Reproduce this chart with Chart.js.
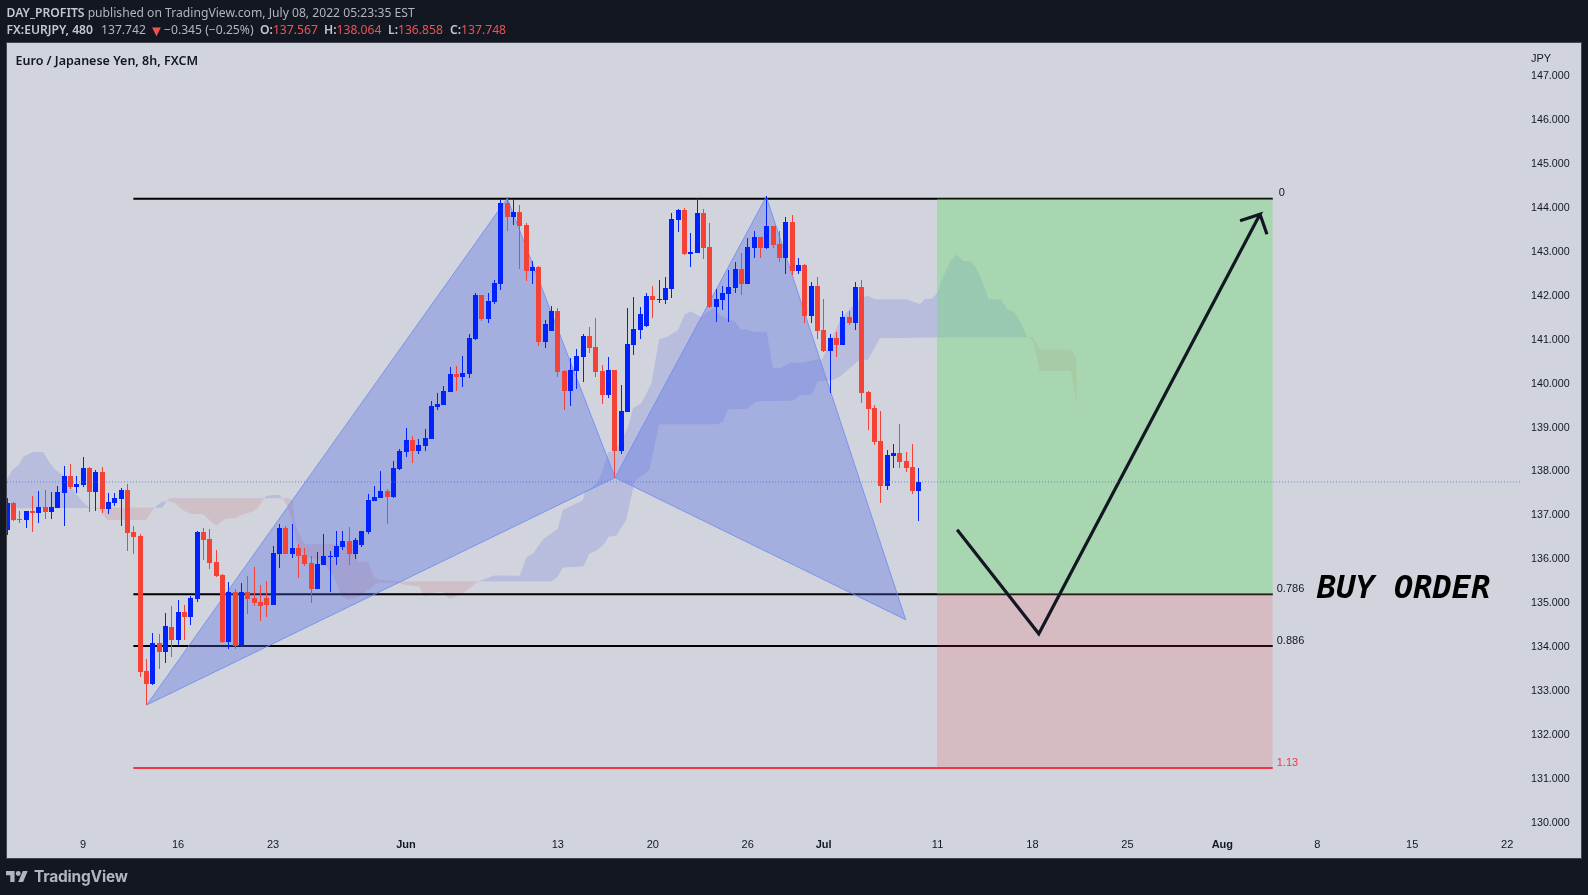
<!DOCTYPE html>
<html><head><meta charset="utf-8">
<script src="https://cdn.jsdelivr.net/npm/chart.js@4"></script>
<style>
html,body{margin:0;padding:0;width:1588px;height:895px;background:#131722;overflow:hidden}
#panel{position:absolute;left:7px;top:43px;width:1574px;height:815px;background:#d1d4dc;box-shadow:0 0 0 1px #434651}
canvas{position:absolute;left:0;top:0}
.h{position:absolute;font-family:"Noto Sans",sans-serif;font-size:12.15px;line-height:16px;color:#b2b5be;white-space:pre}
.h b{font-weight:600;color:#c4c7cf}
.h i{font-style:normal;color:#ef5350}
.p{position:absolute;top:22px;font-family:"Noto Sans",sans-serif;font-size:12.15px;line-height:16px;white-space:pre;color:#b2b5be}
.p b{font-weight:600;color:#c4c7cf}
.p i{font-style:normal;color:#ef5350}
#sym{position:absolute;left:15.5px;top:53px;font:600 12.5px/16px "Noto Sans",sans-serif;color:#131722;white-space:pre}
#jpy{position:absolute;left:1531px;top:51px;font:11px/14px "Liberation Sans",sans-serif;color:#131722}
#logo{position:absolute;left:6px;top:871px;width:22px;height:11px}
#tv{position:absolute;left:34px;top:866px;font:700 15.5px/22px Inter,sans-serif;color:#b2b5be;letter-spacing:-.2px}
</style></head><body>
<div id="panel"></div>
<canvas id="c" width="1588" height="895"></canvas>
<div class="h" style="left:6.5px;top:5px"><b>DAY_PROFITS</b> published on TradingView.com, July 08, 2022 05:23:35 EST</div>
<div class="p" style="left:6.5px"><b>FX:EURJPY, 480</b></div>
<div class="p" style="left:101px">137.742</div>
<div class="p" style="left:149px;font-size:15px"><i>▼</i></div>
<div class="p" style="left:164px">−0.345 (−0.25%)</div>
<div class="p" style="left:260px"><b>O:</b><i>137.567</i></div>
<div class="p" style="left:324px"><b>H:</b><i>138.064</i></div>
<div class="p" style="left:388px"><b>L:</b><i>136.858</i></div>
<div class="p" style="left:450px"><b>C:</b><i>137.748</i></div>
<div id="sym">Euro / Japanese Yen, 8h, FXCM</div>
<div id="jpy">JPY</div>
<svg id="logo" viewBox="0 4 36 18"><path fill="#b2b5be" d="M14 22H7V11H0V4h14v18zM28 22h-8l7.5-18h8L28 22z"/><circle fill="#b2b5be" cx="20" cy="8" r="4"/></svg>
<div id="tv">TradingView</div>
<script>
// Candles (price), one entry per 8h bar
const candleOpen=[136.65,137.26,136.90,136.88,137.08,137.03,137.17,137.06,137.15,137.49,137.88,137.63,137.67,138.06,137.51,137.97,137.12,137.26,137.35,137.56,136.60,136.51,133.43,133.14,134.07,133.87,134.44,134.14,134.78,134.66,135.07,136.60,136.44,135.92,135.62,134.09,135.23,134.00,135.23,135.10,135.01,135.10,134.94,136.10,136.69,136.10,136.23,136.08,135.89,135.30,135.85,136.04,136.03,136.26,136.39,136.10,136.30,136.60,137.31,137.37,137.53,137.40,138.03,138.42,138.70,138.45,138.56,138.72,139.45,139.49,139.79,140.20,140.13,140.20,141.00,142.00,141.45,141.84,142.25,144.09,143.77,143.89,143.59,142.55,142.64,140.93,141.18,141.63,140.27,139.81,140.27,140.59,141.07,140.81,140.27,139.72,140.29,138.44,139.33,140.86,141.20,141.29,141.98,141.89,141.89,142.13,143.71,143.93,142.93,142.96,143.87,143.09,141.73,141.89,142.02,142.16,142.59,142.25,143.07,143.32,143.07,143.57,143.16,142.84,143.66,142.55,142.68,141.52,142.20,141.20,140.72,141.02,140.86,141.50,141.36,142.18,139.79,139.43,138.67,137.65,138.33,138.40,138.22,138.08,137.53];
const candleClose=[137.25,136.88,136.88,137.08,137.03,137.17,137.06,137.17,137.51,137.88,137.63,137.69,138.06,137.51,137.97,137.12,137.28,137.37,137.56,136.58,136.49,133.41,133.14,134.07,133.87,134.46,134.14,134.78,134.66,135.10,136.60,136.42,135.89,135.60,134.09,135.23,134.00,135.23,135.07,134.98,134.91,134.94,136.12,136.69,136.10,136.23,136.05,135.87,135.30,135.87,136.05,136.05,136.28,136.39,136.10,136.42,136.62,137.33,137.40,137.53,137.40,138.06,138.45,138.70,138.45,138.58,138.74,139.47,139.52,139.81,140.20,140.13,140.22,141.02,142.00,141.45,141.86,142.27,144.09,143.77,143.89,143.57,142.55,142.64,140.93,141.34,141.63,140.24,139.81,140.29,140.61,141.07,140.79,140.24,139.72,140.29,138.44,139.36,140.88,141.22,141.57,141.98,141.89,141.91,142.16,143.73,143.93,142.93,142.98,143.87,143.07,141.73,141.91,142.04,142.18,142.59,142.25,143.09,143.32,143.07,143.57,143.14,142.84,143.66,142.55,142.68,141.52,142.20,141.18,140.72,141.02,140.86,141.50,141.36,142.18,139.77,139.40,138.65,137.65,138.35,138.40,138.20,138.06,137.53,137.74];
const candleHigh=[137.37,137.29,137.08,137.08,137.42,137.53,137.56,137.51,137.65,138.10,138.15,137.88,138.31,138.08,138.01,138.08,137.49,137.49,137.60,137.69,136.74,136.55,133.71,134.30,134.28,134.75,134.91,135.05,134.94,135.14,136.62,136.69,136.67,136.19,135.64,135.46,135.30,135.44,135.60,135.80,135.39,135.48,136.28,136.78,136.74,136.78,136.33,136.24,136.05,136.14,136.55,136.17,136.62,136.62,136.71,136.46,136.62,137.47,137.65,137.99,137.58,138.22,138.49,138.97,138.79,138.72,138.95,139.58,139.77,139.93,140.36,140.38,140.61,141.11,142.04,142.00,142.04,142.34,144.18,144.23,144.16,144.05,143.64,142.77,142.66,141.43,141.75,141.70,140.29,140.56,140.77,141.11,141.27,141.48,140.40,140.59,140.29,139.95,141.70,141.95,141.73,142.04,142.20,142.34,142.41,143.87,143.96,143.98,143.41,144.21,143.96,143.64,142.13,142.20,142.57,142.75,142.96,143.30,143.46,143.32,144.25,143.57,143.46,143.77,143.82,142.84,142.70,142.29,142.41,141.91,141.11,141.16,141.63,141.63,142.29,142.34,139.81,139.49,139.36,138.47,138.60,139.06,138.42,138.60,138.06];
const candleLow=[136.53,136.85,136.81,136.69,136.60,136.80,136.90,136.90,137.15,136.74,137.58,137.49,137.63,137.06,137.08,137.03,137.01,137.19,136.74,136.17,136.10,133.30,132.65,133.11,133.48,133.62,133.75,134.03,134.14,134.48,135.01,135.96,135.76,135.57,134.07,133.93,133.93,134.00,134.73,134.91,134.57,134.66,134.94,135.78,136.10,136.01,135.55,135.82,134.98,135.30,135.85,135.23,135.85,136.19,135.85,135.98,136.26,136.55,137.31,137.37,136.78,137.37,138.01,138.31,138.17,138.38,138.45,138.72,139.38,139.49,139.79,139.81,139.90,140.11,140.97,141.41,141.36,141.79,142.11,143.46,143.59,142.59,142.32,142.25,140.84,140.79,141.18,140.13,139.38,139.47,139.86,140.02,140.68,140.13,139.52,139.65,137.83,138.38,139.33,140.63,141.00,141.27,141.48,141.82,141.79,141.93,143.43,142.91,142.64,142.96,142.82,141.70,141.38,141.66,141.38,142.04,142.00,142.25,142.84,142.84,143.05,143.07,142.75,142.48,142.45,142.48,141.36,141.36,141.00,140.70,139.77,140.59,140.86,141.32,141.20,139.54,138.92,138.58,137.26,137.56,138.06,138.06,137.97,137.47,136.86];
// Ichimoku cloud edges
const spanAIdx=[-0.3,0.8,1.85,2.6,4,5.7,6.6,7.4,8.7,10.8,11.9,12.9,14.5,15.8,21.9,23.2,24,24.5,25.6,26.6,27.7,29,30.9,33,34.5,36.1,37.2,38.5,39.6,40.6,40.9,41.9,43,43.5,44.3,45.1,45.6,47,49.9,51.7,52.8,53.8,55.1,55.4,57,58,58.8,62,63,65.1,65.9,67.8,68.8,69.9,72,74.4,77,81,82,83.1,84.6,86,87,87.8,91,91.2,92,93.1,93.9,94.4,95,96,96.8,98,98.9,100.2,101.8,103,104.4,106,107,108,109.7,110.7,111.8,112.6,115,116,116.8,117.9,120,121,122.1,123.9,125.8,128.1,128.7,130,131.6,133.2,134.7,136,137.1,142.1,144.25,145,146.1,146.9,148,149,150,151.1,152.2,153,154,155.1,157,158.1,159,160.1,161.2,161.9,162.2,163.1,168.1,169];
const spanA=[137.73,138.01,138.13,138.32,138.42,138.42,138.20,138.05,137.90,137.48,137.29,137.16,137.11,136.87,136.87,137.14,137.24,137.29,137.30,137.25,137.10,137.01,137.01,136.74,136.90,136.91,137.00,137.05,137.14,137.37,137.42,137.44,137.44,137.37,137.18,136.80,136.42,136.04,135.92,135.54,135.13,135.05,135.09,135.11,135.28,135.39,135.45,135.43,135.39,135.35,135.13,135.24,135.24,135.07,135.20,135.47,135.61,135.60,136.02,136.11,136.42,136.57,136.68,137.10,137.33,137.48,137.57,137.71,137.93,138.16,138.43,138.43,138.62,138.96,139.42,139.53,139.99,140.99,141.05,141.20,141.54,141.63,141.49,141.62,141.69,141.54,141.39,141.20,141.22,141.16,141.16,140.33,140.33,140.46,140.46,140.54,140.52,140.90,141.43,141.69,141.92,141.98,141.90,141.90,141.79,141.91,141.91,142.04,142.45,142.76,142.92,142.77,142.77,142.64,142.34,141.90,141.90,141.66,141.63,141.39,141.03,140.99,140.93,140.27,140.27,139.48];
const spanBIdx=[-0.3,14.5,24.5,25.6,43.5,44.3,45.1,45.6,47,55.1,55.4,57,58,58.8,62,86,87,87.8,91,91.2,92,93.1,93.9,94.4,95,96.25,97.8,98.9,99.1,101.5,103,112.1,113.1,113.9,116.8,118.4,124.2,125.2,127.1,128.1,130.5,131.6,134.7,136,137.9,146,161.2,161.9,162.2,163.1,168.1,169];
const spanB=[137.14,137.15,137.15,137.37,137.37,137.37,137.33,136.72,136.32,136.32,135.92,135.92,135.58,135.51,135.47,135.47,135.58,135.79,135.81,135.85,136.11,136.17,136.27,136.34,136.49,136.52,136.87,137.59,137.75,138.01,139.05,139.05,139.11,139.39,139.40,139.58,139.59,139.72,139.72,140.02,140.06,140.14,140.52,140.52,141.01,141.03,141.03,141.03,140.99,140.75,140.75,140.55];
// Harmonic pattern pivots
const triangle1Idx=[22.05,79.02,96.04,22.05];
const triangle1Price=[132.66,144.20,137.84,132.66];
const triangle2Idx=[96.04,119.94,141.97,96.04];
const triangle2Price=[137.84,144.24,134.60,137.84];
// Fibonacci levels
const fibLabels=["0","0.786","0.886","1.13"];
const fibLevels=[144.19,135.18,134.00,131.22];
const fibStartIdx=19.93, fibEndIdx=199.96, boxStartIdx=146.9;
const lastPrice=137.74;
// Hand-drawn path and arrow
const pathIdx=[150.1,163,197.95,194.8,197.95,199.05];
const pathPrice=[136.65,134.28,143.84,143.69,143.84,143.38];
// Axis ticks
const xTickIdx=[12,27,42,63,87,102,117,129,147,162,177,192,207,222,237];
const xTickLabels=["9","16","23","Jun","13","20","26","Jul","11","18","25","Aug","8","15","22"];
const yTicks=[130,131,132,133,134,135,136,137,138,139,140,141,142,143,144,145,146,147];

const up='#0022ff',down='#f44336';
const bodies=candleOpen.map((o,i)=>({x:i,y:[Math.min(o,candleClose[i]),Math.max(o,candleClose[i])]}));
const wicks=candleOpen.map((o,i)=>({x:i,y:[candleLow[i],candleHigh[i]]}));
const cols=candleOpen.map((o,i)=>candleClose[i]>=o?up:down);
const zip=(a,b)=>a.map((v,i)=>({x:v,y:b[i]}));
const hline=(p,color,order)=>({type:'line',data:[{x:fibStartIdx,y:p},{x:fibEndIdx,y:p}],borderColor:color,borderWidth:2,pointRadius:0,order});
const tri=(a,b)=>({type:'line',data:zip(a,b),borderColor:'rgba(110,140,240,0.85)',borderWidth:1,pointRadius:0,fill:'shape',backgroundColor:'rgba(76,100,232,0.33)',tension:0,order:20});
const box=(top,bottom,color)=>({type:'line',data:[{x:boxStartIdx,y:top},{x:fibEndIdx,y:top}],borderWidth:0,borderColor:'transparent',pointRadius:0,fill:{value:bottom},backgroundColor:color,order:30});
const labelsPlugin={id:'fibText',
  afterDatasetsUpdate(ch){ // snap candle marks to the pixel grid
    ch.data.datasets.forEach((d,k)=>{if(d.type!=='bar')return;
      ch.getDatasetMeta(k).data.forEach(el=>{
        el.x=Math.floor(el.x+0.1)+0.5;
        const top=Math.round(el.y),bot=Math.round(el.base);
        el.y=top;el.base=bot===top?top+1:bot;el.height=el.base-el.y;});});
  },
  afterDatasetsDraw(ch){
  const {ctx,scales:{x,y}}=ch;ctx.save();
  ctx.font='11px "Liberation Sans",sans-serif';ctx.textBaseline='middle';ctx.textAlign='left';
  fibLabels.forEach((t,i)=>{ctx.fillStyle=t==='1.13'?'#f23645':'#131722';
    ctx.fillText(t,x.getPixelForValue(fibEndIdx)+(t==='0'?6:4),y.getPixelForValue(fibLevels[i])-5.5);});
  ctx.fillStyle='#000';ctx.font='italic bold 32px "DejaVu Sans Mono",monospace';
  ctx.fillText('BUY ORDER',1317,589.5);
  ctx.restore();}};
new Chart(document.getElementById('c'),{
  type:'bar',
  data:{datasets:[
    {type:'line',label:'spanA',data:zip(spanAIdx,spanA),borderWidth:0,borderColor:'transparent',pointRadius:0,tension:0,fill:{target:'+1',above:'rgba(85,100,225,0.2)',below:'rgba(200,70,70,0.14)'},order:50},
    {type:'line',label:'spanB',data:zip(spanBIdx,spanB),borderWidth:0,borderColor:'transparent',pointRadius:0,tension:0,fill:false,order:50},
    hline(fibLevels[0],'#000',40),hline(fibLevels[1],'#000',40),hline(fibLevels[2],'#000',40),hline(fibLevels[3],'#f23645',40),
    box(fibLevels[0],fibLevels[1],'rgba(107,217,110,0.4)'),
    box(fibLevels[1],fibLevels[3],'rgba(242,54,69,0.16)'),
    tri(triangle1Idx,triangle1Price),tri(triangle2Idx,triangle2Price),
    {type:'line',data:zip(pathIdx,pathPrice),borderColor:'#131722',borderWidth:3.2,pointRadius:0,tension:0,order:15},
    {type:'bar',data:wicks,backgroundColor:cols,barThickness:1,inflateAmount:0,grouped:false,order:10},
    {type:'bar',data:bodies,backgroundColor:cols,barThickness:5,inflateAmount:0,grouped:false,order:5},
    {type:'line',data:[{x:-0.03,y:lastPrice},{x:239.03,y:lastPrice}],borderColor:'rgba(80,105,240,0.8)',borderWidth:1,borderDash:[1,2],pointRadius:0,order:3}
  ]},
  options:{
    responsive:false,animation:false,devicePixelRatio:1,
    layout:{padding:{left:7,top:44,right:7,bottom:37}},
    plugins:{legend:{display:false},tooltip:{enabled:false}},
    scales:{
      x:{type:'linear',offset:false,min:-0.03,max:239.03,grid:{display:false,drawTicks:false},border:{display:false},
        afterFit(a){a.height=28;},
        afterBuildTicks(a){a.ticks=xTickIdx.map(v=>({value:v}));},
        ticks:{autoSkip:false,maxRotation:0,padding:8,color:'#131722',
          callback(v){return xTickLabels[xTickIdx.indexOf(v)];},
          font(c){const t=c.tick&&xTickLabels[xTickIdx.indexOf(c.tick.value)];return {family:'"Liberation Sans",sans-serif',size:11,weight:(t==='Jun'||t==='Jul'||t==='Aug')?'bold':'normal'};}}},
      y:{type:'linear',position:'right',min:129.81,max:147.716,grid:{display:false,drawTicks:false},border:{display:false},
        afterFit(a){a.width=61;},
        afterBuildTicks(a){a.ticks=yTicks.map(v=>({value:v}));},
        ticks:{padding:11,labelOffset:1,color:'#131722',crossAlign:'near',callback(v){return v.toFixed(3);},font:{family:'"Liberation Sans",sans-serif',size:10.7}}}
    }
  },
  plugins:[labelsPlugin]
});
</script>
</body></html>
